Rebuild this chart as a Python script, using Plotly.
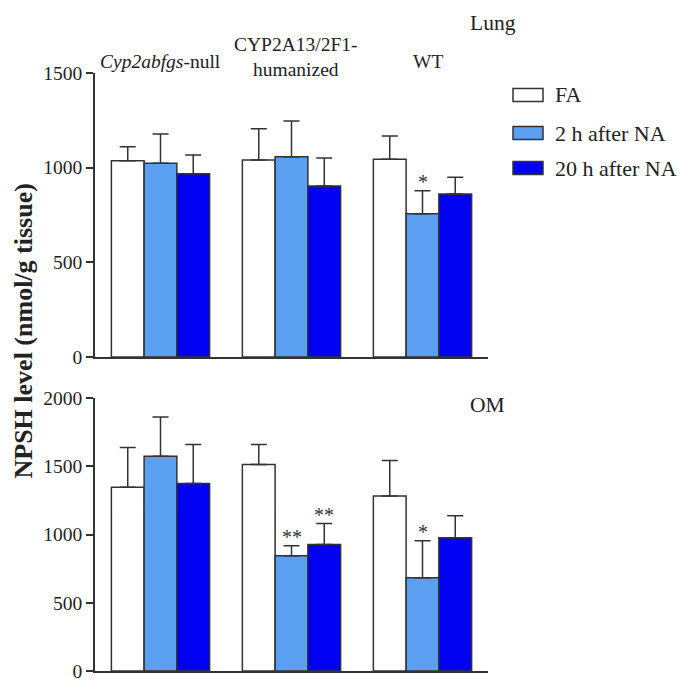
import plotly.graph_objects as go

# ---- data ----
groups = ["Cyp2abfgs-null", "CYP2A13/2F1-humanized", "WT"]
group_labels = ["<i>Cyp2abfgs</i>-null", "CYP2A13/2F1-<br>humanized", "WT"]
series = ["FA", "2 h after NA", "20 h after NA"]
colors = ["#FFFFFF", "#5A9FF2", "#0000F2"]

lung_mean = {
    "FA": [1037, 1040, 1044],
    "2 h after NA": [1023, 1057, 757],
    "20 h after NA": [968, 903, 861],
}
lung_sd = {
    "FA": [74, 165, 123],
    "2 h after NA": [155, 190, 121],
    "20 h after NA": [99, 148, 88],
}
om_mean = {
    "FA": [1348, 1514, 1283],
    "2 h after NA": [1575, 846, 683],
    "20 h after NA": [1375, 928, 978],
}
om_sd = {
    "FA": [291, 147, 260],
    "2 h after NA": [288, 72, 272],
    "20 h after NA": [286, 153, 161],
}
lung_sig = {"2 h after NA": ["", "", "*"]}
om_sig = {"2 h after NA": ["", "**", "*"], "20 h after NA": ["", "**", ""]}

lung_ticks = [0, 500, 1000, 1500]
om_ticks = [0, 500, 1000, 1500, 2000]

# ---- figure ----
W, H = 679, 683
FONT = "Liberation Serif, Times New Roman, serif"
INK = "#333333"
TXT = "#222222"
x = list(range(len(groups)))

fig = go.Figure()

def add_panel(means, sds, xa, ya):
    for s, c in zip(series, colors):
        fig.add_trace(go.Bar(
            x=x, y=means[s], name=s, marker=dict(color=c, line=dict(color=INK, width=1.5)),
            error_y=dict(type="data", symmetric=False, array=sds[s], arrayminus=[0] * len(x),
                         color=INK, thickness=1.5, width=8),
            xaxis=xa, yaxis=ya, showlegend=False, hoverinfo="skip",
        ))

add_panel(lung_mean, lung_sd, "x", "y")
add_panel(om_mean, om_sd, "x2", "y2")

xdom = [95 / W, 488 / W]
top_dom = [(H - 357) / H, (H - 73) / H]
bot_dom = [(H - 671) / H, (H - 398.3) / H]

axis_common = dict(showline=True, linecolor=INK, linewidth=1.5, showgrid=False, zeroline=False,
                   automargin=False)
yaxis_common = dict(axis_common, ticks="outside", ticklen=7, tickwidth=1.5, tickcolor=INK,
                    ticklabeloverflow="allow",
                    tickfont=dict(family=FONT, size=19.5, color=TXT))

fig.update_layout(
    template="none",
    width=W, height=H, margin=dict(l=0, r=0, t=0, b=0, autoexpand=False),
    paper_bgcolor="white", plot_bgcolor="white",
    barmode="group", bargap=0.25, bargroupgap=0,
    font=dict(family=FONT, color=TXT),
    showlegend=False,
    xaxis=dict(axis_common, domain=xdom, range=[-0.5, 2.5], showticklabels=False, ticks="", anchor="y"),
    yaxis=dict(yaxis_common, domain=top_dom, range=[0, 1500], tickvals=lung_ticks, anchor="x"),
    xaxis2=dict(axis_common, domain=xdom, range=[-0.5, 2.5], showticklabels=False, ticks="", anchor="y2"),
    yaxis2=dict(yaxis_common, domain=bot_dom, range=[0, 2000], tickvals=om_ticks, anchor="x2"),
)

ann = []
offs = [-0.25, 0, 0.25]
for sig, means, sds, xr, yr in [(lung_sig, lung_mean, lung_sd, "x", "y"), (om_sig, om_mean, om_sd, "x2", "y2")]:
    for s, marks in sig.items():
        j = series.index(s)
        for i, m in enumerate(marks):
            if m:
                ann.append(dict(x=i + offs[j], y=means[s][i] + sds[s][i], xref=xr, yref=yr,
                                text=m, showarrow=False, xanchor="center", yanchor="bottom", yshift=-4,
                                font=dict(family=FONT, size=20, color=INK)))

# group labels
label_y = [61, 57, 62]
for i, (g, ly) in enumerate(zip(group_labels, label_y)):
    ann.append(dict(x=i, y=(H - ly) / H, xref="x", yref="paper", text=g, showarrow=False,
                    xanchor="center", yanchor="middle",
                    xshift=[0, 4, 5][i], font=dict(family=FONT, size=19.5, color=TXT)))

ann.append(dict(x=493 / W, y=(H - 23) / H, xref="paper", yref="paper", text="Lung",
                xanchor="center", yanchor="middle",
                showarrow=False, font=dict(family=FONT, size=21.5, color=TXT)))
ann.append(dict(x=487 / W, y=(H - 405) / H, xref="paper", yref="paper", text="OM",
                xanchor="center", yanchor="middle",
                showarrow=False, font=dict(family=FONT, size=21.5, color=TXT)))
ann.append(dict(x=22.5 / W, y=(H - 331) / H, xref="paper", yref="paper",
                text="<b>NPSH level (nmol/g tissue)</b>", textangle=-90, showarrow=False,
                xanchor="center", yanchor="middle",
                font=dict(family=FONT, size=26, color=TXT)))

# legend (manual)
shapes = []
leg_y = [95, 133, 168]
for s, c, ly in zip(series, colors, leg_y):
    shapes.append(dict(type="rect", xref="paper", yref="paper",
                       x0=513 / W, x1=543 / W, y0=(H - ly - 6.5) / H, y1=(H - ly + 6.5) / H,
                       fillcolor=c, line=dict(color=INK, width=1.5)))
    ann.append(dict(x=555 / W, y=(H - ly) / H, xref="paper", yref="paper", text=s,
                    xanchor="left", yanchor="middle", showarrow=False, xshift=-2,
                    font=dict(family=FONT, size=22, color=TXT)))

fig.update_layout(annotations=ann, shapes=shapes)
fig.write_html("out.html", config={"displayModeBar": False},
               post_script="document.body.style.margin='0';document.body.style.overflow='hidden';")
